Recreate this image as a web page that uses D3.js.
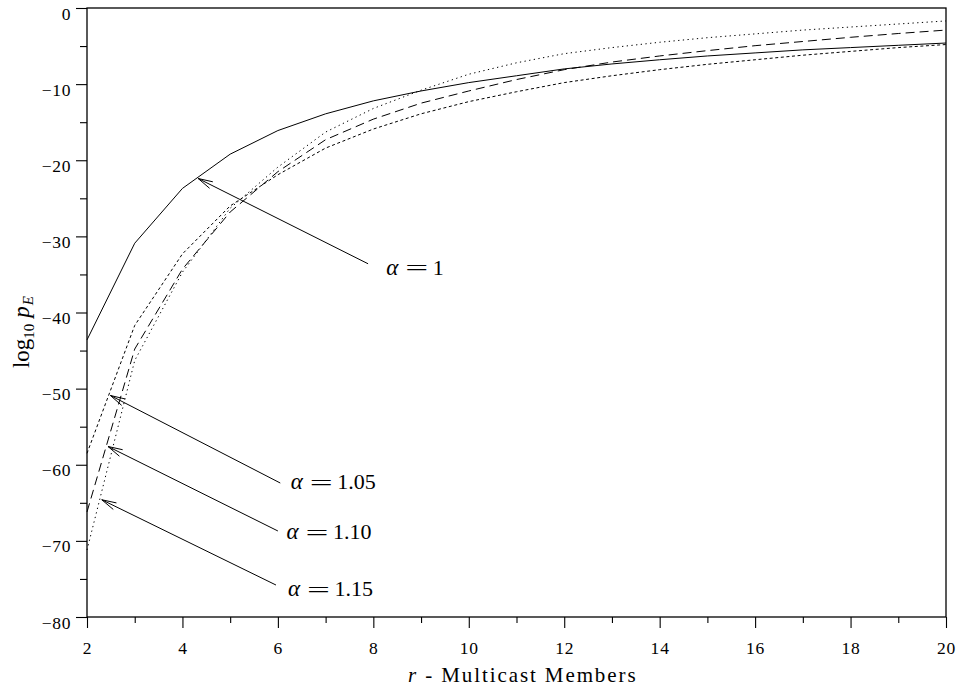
<!DOCTYPE html>
<html>
<head>
<meta charset="utf-8">
<script src="https://cdn.jsdelivr.net/npm/d3@7/dist/d3.min.js"></script>
<style>
  html, body { margin: 0; padding: 0; background: #fff; }
  svg { display: block; }
</style>
</head>
<body>
<svg id="chart" width="958" height="690"></svg>
<script>
// ---- data ----
const members = [2,3,4,5,6,7,8,9,10,11,12,13,14,15,16,17,18,19,20];
const alpha100 = [-43.6,-30.9,-23.7,-19.2,-16.1,-13.9,-12.2,-10.9,-9.8,-8.9,-8.0,-7.35,-6.8,-6.3,-5.9,-5.5,-5.2,-4.9,-4.6];
const alpha105 = [-58.5,-41.7,-32.3,-26.0,-21.9,-18.4,-15.9,-13.9,-12.3,-11.0,-9.8,-8.9,-8.1,-7.4,-6.8,-6.2,-5.7,-5.2,-4.8];
const alpha110 = [-66.2,-44.8,-34.3,-26.8,-21.5,-17.3,-14.6,-12.5,-10.9,-9.4,-8.1,-7.1,-6.3,-5.6,-4.95,-4.4,-3.85,-3.35,-2.9];
const alpha115 = [-71.2,-46.3,-34.7,-26.3,-20.9,-16.3,-13.2,-10.8,-8.7,-7.2,-6.0,-5.2,-4.5,-3.9,-3.4,-2.9,-2.5,-2.1,-1.7];
const seriesNames = ["1", "1.05", "1.10", "1.15"];
const xMajorTicks = [2,4,6,8,10,12,14,16,18,20];
const xMinorTicks = [3,5,7,9,11,13,15,17,19];
const yMajorTicks = [-80,-70,-60,-50,-40,-30,-20,-10,0];
const yMinorTicks = [-75,-65,-55,-45,-35,-25,-15,-5];
// annotation anchors in data units: arrow tip, arrow tail, label start
const annotTip  = [[4.33,-22.4],[2.49,-50.9],[2.44,-57.6],[2.31,-64.6]];
const annotTail = [[7.89,-33.6],[6.05,-62.4],[6.00,-68.7],[5.96,-75.8]];
const annotText = [[8.27,-35.05],[6.27,-63.2],[6.18,-69.8],[6.21,-77.3]];

// ---- layout ----
const FONT = '"Liberation Serif", "Times New Roman", Tinos, serif';
const svg = d3.select("#chart");
const mLeft = 87, mRight = 946, mTop = 8, mBottom = 617;
const x = d3.scaleLinear().domain([2,20]).range([mLeft,mRight]);
const y = d3.scaleLinear().domain([-80,0]).range([mBottom,mTop]);

const styles = [
  {dash: null},
  {dash: "3,2.6"},
  {dash: "9,5"},
  {dash: "1.3,3.4"}
];
const allSeries = [alpha100, alpha105, alpha110, alpha115];

// ---- axes ----
const fmt = d => d === 0 ? "0" : "\u2212" + Math.abs(d);

const gy = svg.append("g").attr("transform", `translate(${mLeft},0)`);
gy.call(d3.axisLeft(y).tickValues(yMajorTicks).tickSize(11).tickPadding(5).tickFormat(fmt));
gy.attr("font-family", FONT).attr("font-size", 17.5);
gy.select(".domain").remove();
gy.selectAll("text").attr("dy", "11px").attr("letter-spacing", "0.6");
const gy2 = svg.append("g").attr("transform", `translate(${mLeft},0)`);
gy2.call(d3.axisLeft(y).tickValues(yMinorTicks).tickSize(7).tickFormat(""));
gy2.select(".domain").remove();

const gx = svg.append("g").attr("transform", `translate(0,${mBottom})`);
gx.call(d3.axisBottom(x).tickValues(xMajorTicks).tickSize(11).tickFormat(d3.format("d")));
gx.attr("font-family", FONT).attr("font-size", 17.5);
gx.select(".domain").remove();
gx.selectAll("text").attr("y", 37).attr("dy", 0).attr("letter-spacing", "0.8");
const gx2 = svg.append("g").attr("transform", `translate(0,${mBottom})`);
gx2.call(d3.axisBottom(x).tickValues(xMinorTicks).tickSize(6).tickFormat(""));
gx2.select(".domain").remove();

svg.selectAll(".tick line").attr("stroke", "#000").attr("stroke-width", 1.1);

// frame
svg.append("rect")
  .attr("x", mLeft).attr("y", mTop)
  .attr("width", mRight - mLeft).attr("height", mBottom - mTop)
  .attr("fill", "none").attr("stroke", "#000").attr("stroke-width", 1.3);

// ---- curves ----
const line = d3.line().x((d,i) => x(members[i])).y(d => y(d));
allSeries.forEach((vals, k) => {
  svg.append("path")
    .datum(vals)
    .attr("d", line)
    .attr("fill", "none")
    .attr("stroke", "#000")
    .attr("stroke-width", 1)
    .attr("stroke-dasharray", styles[k].dash);
});

// ---- annotations ----
seriesNames.forEach((name, k) => {
  const tx = x(annotTip[k][0]), ty = y(annotTip[k][1]);
  const sx = x(annotTail[k][0]), sy = y(annotTail[k][1]);
  svg.append("line").attr("x1", sx).attr("y1", sy).attr("x2", tx).attr("y2", ty)
    .attr("stroke", "#000").attr("stroke-width", 1);
  const ang = Math.atan2(sy - ty, sx - tx);
  const L = 15, h = 14 * Math.PI / 180;
  const p1 = [tx + L*Math.cos(ang - h), ty + L*Math.sin(ang - h)];
  const p2 = [tx + L*Math.cos(ang + h), ty + L*Math.sin(ang + h)];
  svg.append("path")
    .attr("d", `M${p1[0]},${p1[1]}L${tx},${ty}L${p2[0]},${p2[1]}`)
    .attr("fill", "none").attr("stroke", "#000").attr("stroke-width", 1);

  const g = svg.append("g")
    .attr("font-family", FONT)
    .attr("transform", `translate(${x(annotText[k][0])},${y(annotText[k][1])})`);
  g.append("text").attr("x", 0).attr("y", 0)
    .attr("font-size", 23).attr("font-style", "italic").text("\u03B1");
  g.append("text").attr("transform", "translate(19,0.5) scale(1.85,1)")
    .attr("font-size", 22).text("=");
  g.append("text").attr("x", 46.5).attr("y", 0)
    .attr("font-size", 22).text(name);
});

// ---- axis titles ----
const xt = svg.append("text")
  .attr("font-family", FONT)
  .attr("x", 408).attr("y", 681.5)
  .attr("font-size", 21).attr("letter-spacing", "1.9");
xt.append("tspan").attr("font-style", "italic").text("r");
xt.append("tspan").text(" - Multicast Members");

const yt = svg.append("text")
  .attr("font-family", FONT)
  .attr("transform", "translate(29,332) rotate(-90)")
  .attr("text-anchor", "middle")
  .attr("font-size", 23);
yt.append("tspan").text("log");
yt.append("tspan").attr("dy", 5).attr("font-size", 15).text("10");
yt.append("tspan").attr("dy", -5).attr("dx", 6).attr("font-style", "italic").text("p");
yt.append("tspan").attr("dy", 4).attr("dx", 1).attr("font-size", 15).attr("font-style", "italic").text("E");
</script>
</body>
</html>
